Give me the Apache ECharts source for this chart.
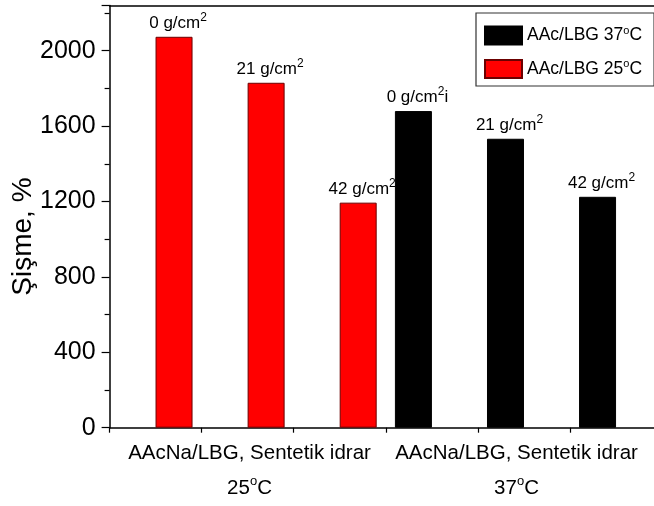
<!DOCTYPE html>
<html>
<head>
<meta charset="utf-8">
<script src="https://cdn.jsdelivr.net/npm/echarts@6/dist/echarts.min.js"></script>
<style>
  html, body { margin: 0; padding: 0; background: #fff; }
  #chart { width: 654px; height: 506px; }
</style>
</head>
<body>
<div id="chart"></div>
<script>
// Swelling (%) of AAcNa/LBG hydrogels in synthetic urine under load
const loads = ['0', '21', '42'];              // applied load, g/cm2
const redX = [0.7, 1.7, 2.7];                  // 25 °C group positions
const blackX = [3.3, 4.3, 5.3];                // 37 °C group positions
const swell25 = [2074, 1830, 1194];
const swell37 = [1680, 1533, 1225];
const labelSuffix37 = ['i', '', ''];
const groupPos = [1.52, 4.42];
const groupNames = ['AAcNa/LBG, Sentetik idrar', 'AAcNa/LBG, Sentetik idrar'];
const groupTemps = ['25', '37'];
const yTicks = [0, 400, 800, 1200, 1600, 2000];

const FONT = 'Liberation Sans, Arial, sans-serif';

function loadLabel(list, suffix) {
  return function (p) {
    return list[p.dataIndex] + ' g/cm{s|2}' + (suffix ? suffix[p.dataIndex] : '');
  };
}

const chart = echarts.init(document.getElementById('chart'), null, { renderer: 'canvas' });

const barLabel = {
  show: true,
  position: 'top',
  distance: 2,
  offset: [4, 0],
  fontFamily: FONT,
  fontSize: 17,
  color: '#000',
  rich: {
    s: { fontSize: 12, fontFamily: FONT, color: '#000', padding: [0, 0, 11, 0] }
  }
};

chart.setOption({
  animation: false,
  backgroundColor: '#fff',
  textStyle: { fontFamily: FONT },
  grid: {
    left: 109.6, right: -8, top: 5.5, bottom: 78.3,
    containLabel: false,
    outerBoundsMode: 'none'
  },
  legend: {
    left: 476, top: 13,
    orient: 'vertical',
    padding: [12, 12, 7, 8],
    itemGap: 13,
    itemWidth: 37, itemHeight: 18,
    borderColor: '#333', borderWidth: 1.2,
    icon: 'rect',
    data: ['AAc/LBG 37°C', 'AAc/LBG 25°C'],
    formatter: function (name) {
      return name.replace('°', '{o|o}');
    },
    textStyle: {
      fontFamily: FONT, fontSize: 17.5, color: '#000',
      rich: { o: { fontSize: 11, fontFamily: FONT, color: '#000', padding: [0, 0, 10, 0] } }
    }
  },
  xAxis: [{
    type: 'value',
    min: 0, max: 6, interval: 1,
    splitLine: { show: false },
    axisLine: { lineStyle: { color: '#000', width: 1.5 } },
    axisTick: { show: true, length: 5, lineStyle: { color: '#000', width: 1.2 } },
    axisLabel: {
      show: true,
      customValues: groupPos,
      margin: 8,
      formatter: function (v) {
        const i = groupPos.indexOf(v);
        if (i < 0) return '';
        return '{t|' + groupNames[i] + '}\n{t|' + groupTemps[i] + '}{o|o}{t|C}';
      },
      rich: {
        t: { fontFamily: FONT, fontSize: 20.5, color: '#000', lineHeight: 35 },
        o: { fontFamily: FONT, fontSize: 13, color: '#000', lineHeight: 35, padding: [0, 0, 13, 0] }
      }
    }
  }, {
    type: 'value',
    position: 'top',
    min: 0, max: 6,
    splitLine: { show: false },
    axisLine: { show: true, onZero: false, lineStyle: { color: '#000', width: 1.5 } },
    axisTick: { show: false },
    axisLabel: { show: false }
  }],
  yAxis: {
    type: 'value',
    min: 0, max: 2240, interval: 400,
    name: 'Şişme, %',
    nameLocation: 'middle',
    nameGap: 72,
    nameMoveOverlap: false,
    nameTextStyle: { fontFamily: FONT, fontSize: 28, color: '#000', padding: [0, 40, 0, 0] },
    splitLine: { show: false },
    axisLine: { show: true, lineStyle: { color: '#000', width: 1.5 } },
    axisTick: { show: true, length: 8, lineStyle: { color: '#000', width: 1.2 } },
    minorTick: { show: true, splitNumber: 2, length: 5, lineStyle: { color: '#000', width: 1.2 } },
    axisLabel: {
      margin: 14,
      fontFamily: FONT, fontSize: 25, color: '#000',
      formatter: function (v) { return yTicks.indexOf(v) >= 0 ? String(v) : ''; }
    }
  },
  series: [{
    name: 'AAc/LBG 37°C',
    type: 'bar',
    barWidth: 37,
    barGap: '-100%',
    data: blackX.map((x, i) => [x, swell37[i]]),
    itemStyle: { color: '#000', borderColor: '#000', borderWidth: 1 },
    label: Object.assign({}, barLabel, { formatter: loadLabel(loads, labelSuffix37) })
  }, {
    name: 'AAc/LBG 25°C',
    type: 'bar',
    barWidth: 37,
    barGap: '-100%',
    data: redX.map((x, i) => [x, swell25[i]]),
    itemStyle: { color: '#ff0000', borderColor: '#6b0000', borderWidth: 1 },
    label: Object.assign({}, barLabel, { formatter: loadLabel(loads) })
  }]
});
</script>
</body>
</html>
